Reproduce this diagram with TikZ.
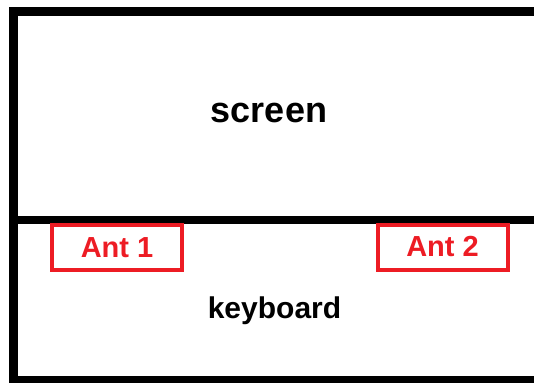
\documentclass[tikz,border=0pt]{standalone}
\usepackage{fontspec}
\setmainfont{Liberation Sans}
\usetikzlibrary{positioning}

\definecolor{antred}{RGB}{237,28,36}
\tikzset{
  antbox/.style={draw=antred, line width=4pt, text=antred,
    font=\fontsize{29}{29}\selectfont\bfseries,
    minimum width=130pt, minimum height=45pt, inner sep=0pt},
  partlabel/.style={anchor=base, inner sep=0pt}
}

\begin{document}
\begin{tikzpicture}[x=1pt,y=-1pt]
    \useasboundingbox (0,0) rectangle (534,382);
    \clip (0,0) rectangle (534,382);
    % white background
    \fill[white] (0,0) rectangle (534,382);
    % outline of the device, open to the right
    \draw[line width=9pt] (545,11.5) -- (13,11.5) -- (13,380.5) -- (545,380.5);
    % hinge between screen and keyboard
    \draw[line width=8pt] (13,220) -- (545,220);

    \node[partlabel, font=\fontsize{36}{36}\selectfont\bfseries] (screen) at (269,122.7) {screen};
    \node[partlabel, font=\fontsize{30}{30}\selectfont\bfseries] (keyboard) at (274.5,318.3) {keyboard};

    % the two antennas
    \node[antbox] (ant1) at (117,247.5) {Ant 1};
    \node[antbox] (ant2) at (442.5,247) {Ant 2};
\end{tikzpicture}
\end{document}
